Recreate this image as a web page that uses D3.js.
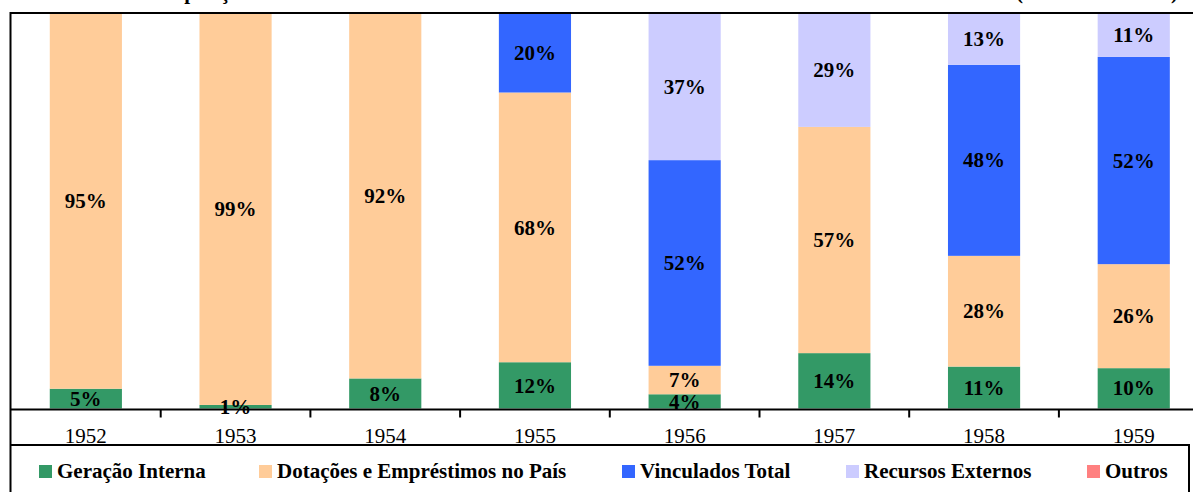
<!DOCTYPE html>
<html>
<head>
<meta charset="utf-8">
<script src="https://cdn.jsdelivr.net/npm/d3@7/dist/d3.min.js"></script>
<style>
  html, body { margin: 0; padding: 0; background: #fff; }
  svg { display: block; font-family: "Liberation Serif", "Times New Roman", serif; }
</style>
</head>
<body>
<svg id="chart" width="1193" height="492"></svg>
<script>
// Sources of financing, share of the yearly total (%)
const years = ["1952", "1953", "1954", "1955", "1956", "1957", "1958", "1959"];
const seriesNames = ["Geração Interna", "Dotações e Empréstimos no País", "Vinculados Total", "Recursos Externos", "Outros"];
const geracaoInterna = [5.0, 0.9, 7.6, 11.7, 3.6, 14.0, 10.6, 10.2];
const dotacoesPais   = [95.0, 99.1, 92.4, 68.2, 7.2, 57.2, 28.0, 26.3];
const vinculados     = [0, 0, 0, 20.1, 52.0, 0, 48.3, 52.4];
const recursosExt    = [0, 0, 0, 0, 37.2, 28.8, 13.1, 11.1];
const outros         = [0, 0, 0, 0, 0, 0, 0, 0];
const colors = ["#339966", "#FFCC99", "#3366FF", "#CCCCFF", "#FF8080"];

const seriesValues = [geracaoInterna, dotacoesPais, vinculados, recursosExt, outros];
const rows = years.map((yr, i) => {
  const r = { year: yr };
  seriesNames.forEach((s, k) => { r[s] = seriesValues[k][i]; });
  return r;
});

const svg = d3.select("#chart");
const plotLeft = 11, plotTop = 13, plotBottom = 408.5;

const x = d3.scaleBand().domain(years).range([plotLeft, plotLeft + 8 * 149.7])
  .paddingInner(0.518).paddingOuter(0.259);
const y = d3.scaleLinear().domain([0, 100]).range([plotBottom, plotTop]);
const color = d3.scaleOrdinal().domain(seriesNames).range(colors);

const stacked = d3.stack().keys(seriesNames)(rows);

// Title (mostly above the visible area)
const title = svg.append("text")
  .attr("y", -1.5)
  .attr("font-weight", "bold")
  .attr("font-size", 21);
title.append("tspan").attr("x", 141).text("Composição das Fontes de Financiamento dos Investimentos");
title.append("tspan").attr("x", 1016).attr("textLength", 162).text("(em % do total)");

// Bars
const layers = svg.append("g").selectAll("g").data(stacked).join("g")
  .attr("fill", d => color(d.key));
layers.selectAll("rect").data(d => d.filter(p => p[1] - p[0] > 0)).join("rect")
  .attr("x", d => x(d.data.year))
  .attr("width", x.bandwidth())
  .attr("y", d => y(d[1]))
  .attr("height", d => y(d[0]) - y(d[1]));

// Value labels
const labels = svg.append("g")
  .attr("font-weight", "bold")
  .attr("font-size", 21)
  .attr("text-anchor", "middle")
  .attr("fill", "#000");
stacked.forEach(layer => {
  labels.selectAll(null).data(layer.filter(p => p[1] - p[0] > 0)).join("text")
    .attr("x", d => x(d.data.year) + x.bandwidth() / 2)
    .attr("y", d => (y(d[0]) + y(d[1])) / 2)
    .attr("dy", "0.34em")
    .text(d => d3.format(".0f")(d[1] - d[0]) + "%");
});

// Plot frame: top and left borders
svg.append("line").attr("x1", 10).attr("x2", 1193).attr("y1", 13).attr("y2", 13)
  .attr("stroke", "#000").attr("stroke-width", 2);
svg.append("line").attr("x1", 10.5).attr("x2", 10.5).attr("y1", 12).attr("y2", 492)
  .attr("stroke", "#000").attr("stroke-width", 2);

// Category axis
const axis = svg.append("g").attr("transform", `translate(0,${plotBottom + 1})`)
  .call(d3.axisBottom(x).tickSize(0).tickPadding(18));
axis.select(".domain").attr("d", `M10,0H1193`).attr("stroke", "#000").attr("stroke-width", 2);
axis.selectAll("text").attr("font-size", 21).attr("font-family", "Liberation Serif, serif")
  .attr("fill", "#000").attr("dy", 0).attr("y", 33);
const gap = (x.step() - x.bandwidth()) / 2;
axis.selectAll(".divider").data(years.slice(1)).join("line")
  .attr("class", "divider")
  .attr("x1", d => x(d) - gap).attr("x2", d => x(d) - gap)
  .attr("y1", 0).attr("y2", 8)
  .attr("stroke", "#000").attr("stroke-width", 2);

// Legend box
const legend = svg.append("g");
legend.append("path").attr("d", "M10,445H1189V492")
  .attr("fill", "none").attr("stroke", "#000").attr("stroke-width", 2);
const legendX = [39, 259, 622, 846, 1087];
const items = legend.selectAll("g.item").data(seriesNames).join("g")
  .attr("class", "item")
  .attr("transform", (d, i) => `translate(${legendX[i]},465)`);
items.append("rect").attr("width", 13).attr("height", 13).attr("fill", d => color(d));
items.append("text").attr("x", 18).attr("y", 13)
  .attr("font-weight", "bold").attr("font-size", 21).attr("fill", "#000")
  .text(d => d);
</script>
</body>
</html>
